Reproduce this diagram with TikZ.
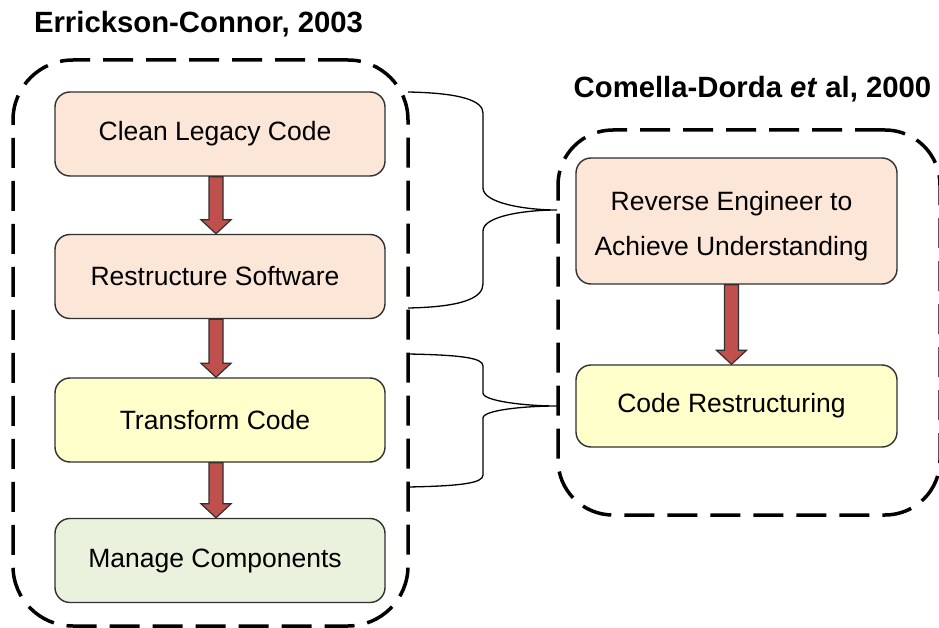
\documentclass[tikz,border=0pt]{standalone}
\usepackage{fontspec}
\setmainfont{Liberation Sans}
\usetikzlibrary{calc}
\definecolor{peach}{HTML}{FCE6D8}
\definecolor{paleyellow}{HTML}{FFFFCC}
\definecolor{palegreen}{HTML}{EAF1DD}
\definecolor{arrowred}{HTML}{C0504D}
\definecolor{boxline}{HTML}{303030}
\newcommand{\txtleftshift}{\hspace*{-10pt}}
\tikzset{
  stepbox/.style={draw=boxline, line width=1.4pt, rounded corners=15pt,
    minimum width=330pt, minimum height=84pt, align=center,
    font=\fontsize{26.5}{45}\selectfont, inner sep=0pt},
  group/.style={draw=black, line width=3.5pt, dash pattern=on 30pt off 13pt,
    inner sep=0pt},
  title/.style={font=\fontsize{29.3}{34}\selectfont\bfseries, inner sep=0pt},
  fat/.style={draw=boxline, line width=1.2pt, fill=arrowred, line join=miter},
  bracket/.style={draw=black, line width=1.3pt},
}
\newcommand{\fatarrow}[3]{%
  \draw[fat] ([xshift=#3-7pt]#1.south) -- ([xshift=#3-7pt,yshift=14pt]#2.north)
    -- ([xshift=#3-15pt,yshift=14pt]#2.north) -- ([xshift=#3]#2.north)
    -- ([xshift=#3+15pt,yshift=14pt]#2.north) -- ([xshift=#3+7pt,yshift=14pt]#2.north)
    -- ([xshift=#3+7pt]#1.south) -- cycle;}
\begin{document}
\begin{tikzpicture}[x=1pt,y=-1pt]
\useasboundingbox (0,0) rectangle (939,628);
% containers
\node[group, rounded corners=60pt, minimum width=395pt, minimum height=566pt] (left) at (210.5,343) {};
\node[group, rounded corners=55pt, minimum width=382pt, minimum height=385pt] (right) at (749,322.5) {};
% titles
\node[title] (t1) at (198.5,24) {Errickson-Connor, 2003};
\node[title] (t2) at (752.5,89) {Comella-Dorda \textit{et} al, 2000};
% left boxes
\node[stepbox, fill=peach] (clean) at (220,134) {\txtleftshift Clean Legacy Code};
\node[stepbox, fill=peach] (restr) at (220,276.5) {\txtleftshift Restructure Software};
\node[stepbox, fill=paleyellow] (trans) at (220,420) {\txtleftshift Transform Code};
\node[stepbox, fill=palegreen] (manage) at (220,560.5) {\txtleftshift Manage Components};
% right boxes
\node[stepbox, fill=peach, minimum width=321pt, minimum height=126pt, text height=75pt, text depth=5.6pt] (rev) at (736.5,221) {\txtleftshift Reverse Engineer to\\\txtleftshift Achieve Understanding};
\node[stepbox, fill=paleyellow, minimum width=321pt, minimum height=82pt] (coder) at (736.5,406) {\txtleftshift Code Restructuring};
% arrows
\fatarrow{clean}{restr}{-4pt}
\fatarrow{restr}{trans}{-4pt}
\fatarrow{trans}{manage}{-4pt}
\fatarrow{rev}{coder}{-5pt}
% brackets
\coordinate (b1a) at (408,92);
\coordinate (b1b) at (408,308);
\coordinate (b1t) at (557,210);
\coordinate (b2a) at (408,354);
\coordinate (b2b) at (408,487);
\coordinate (b2t) at (557,406);
\draw[bracket] (b1a) .. controls (462,93) and (483,101) .. (483,113) -- (483,188)
  .. controls (483,203) and (525,210) .. (b1t)
  .. controls (525,210) and (483,216) .. (483,231) -- (483,284)
  .. controls (483,298) and (462,307) .. (b1b);
\draw[bracket] (b2a) .. controls (462,355) and (483,358) .. (483,366) -- (483,393)
  .. controls (483,401) and (525,406) .. (b2t)
  .. controls (525,406) and (483,410) .. (483,418) -- (483,475)
  .. controls (483,483) and (462,486) .. (b2b);
\end{tikzpicture}
\end{document}
